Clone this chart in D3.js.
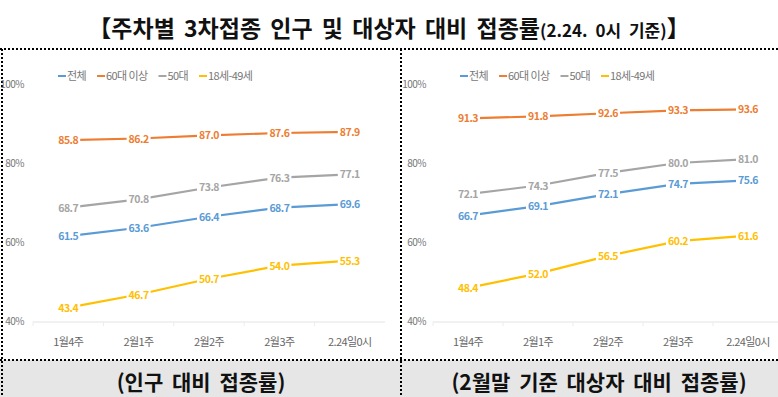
<!DOCTYPE html>
<html>
<head>
<meta charset="utf-8">
<script src="https://cdn.jsdelivr.net/npm/d3@7"></script>
<style>
body { margin:0; background:#fff; }
svg { display:block; font-family:"Noto Sans CJK KR","Noto Sans",sans-serif; }
</style>
</head>
<body>
<svg id="svg0" width="778" height="397"></svg>
<script>
var svg0 = d3.select('#svg0');
var W = +svg0.attr('width'), H = +svg0.attr('height');

// data
var categories = ['1월4주','2월1주','2월2주','2월3주','2.24일0시'];
var series_names = ['전체','60대 이상','50대','18세-49세'];
var series_colors = ['#5b9bd5','#ed7d31','#a5a5a5','#ffc000'];
var y_ticks = [40,60,80,100];

// 인구 대비
var pop_total = [61.5,63.6,66.4,68.7,69.6];
var pop_60 = [85.8,86.2,87.0,87.6,87.9];
var pop_50 = [68.7,70.8,73.8,76.3,77.1];
var pop_18 = [43.4,46.7,50.7,54.0,55.3];

// 2월말 기준 대상자 대비
var tgt_total = [66.7,69.1,72.1,74.7,75.6];
var tgt_60 = [91.3,91.8,92.6,93.3,93.6];
var tgt_50 = [72.1,74.3,77.5,80.0,81.0];
var tgt_18 = [48.4,52.0,56.5,60.2,61.6];

var panel_titles = ['(인구 대비 접종률)','(2월말 기준 대상자 대비 접종률)'];

// title
var title = svg0.append('text').attr('x', W/2).attr('y', 37).attr('text-anchor','middle')
	.attr('font-weight','bold').attr('font-size', 23).attr('fill','#111').attr('letter-spacing', 0)
	.attr('word-spacing', 4);
title.append('tspan').text('【주차별 3차접종 인구 및 대상자 대비 접종률');
title.append('tspan').attr('font-size', 17).text('(2.24. 0시 기준)');
title.append('tspan').text('】');

// bottom grey panel + dotted frame
var top_line = 49, bottom_line = 360, mid_x = 401;
svg0.append('rect').attr('x', 0).attr('y', bottom_line).attr('width', W).attr('height', H-bottom_line).attr('fill','#e6e6e6');
var dot = {stroke:'#000', 'stroke-width':2, 'stroke-dasharray':'2,2'};
function dline(x1,y1,x2,y2) {
	var l = svg0.append('line').attr('x1',x1).attr('y1',y1).attr('x2',x2).attr('y2',y2);
	for (var k in dot) l.attr(k, dot[k]);
}
dline(0, top_line, W, top_line);
dline(0, bottom_line, W, bottom_line);
dline(2, top_line, 2, H);
dline(mid_x, top_line, mid_x, H);

panel_titles.forEach(function(t, i) {
	svg0.append('text').attr('x', i == 0 ? 201 : 599).attr('y', 390).attr('text-anchor','middle')
		.attr('font-weight','bold').attr('font-size', 21).attr('fill','#111').attr('word-spacing', 4).text(t);
});

var y = d3.scaleLinear().domain([40,100]).range([321,84]);

function drawPanel(x0, x1, yLabelX, legendX, data) {
	var g = svg0.append('g');
	var x = d3.scaleBand().domain(categories).range([x0, x1]);

	// baseline
	g.append('line').attr('x1', x0).attr('x2', x1).attr('y1', y(40)+1).attr('y2', y(40)+1)
		.attr('stroke','#e3e3e3').attr('stroke-width',1.2);
	g.selectAll('.sep').data(categories).enter().append('line')
		.attr('x1', d => x(d)).attr('x2', d => x(d)).attr('y1', y(40)+1).attr('y2', y(40)+5)
		.attr('stroke','#ececec');

	// y labels
	g.selectAll('.yl').data(y_ticks).enter().append('text')
		.attr('x', yLabelX).attr('y', d => y(d)+3.5).attr('text-anchor','end')
		.attr('font-size', 10).attr('fill','#777').attr('letter-spacing', -0.5).text(d => d + '%');

	// x labels
	g.selectAll('.xl').data(categories).enter().append('text')
		.attr('x', d => x(d) + x.bandwidth()/2).attr('y', 346).attr('text-anchor','middle')
		.attr('font-size', 11).attr('fill','#666').attr('letter-spacing', -0.6).text(d => d);

	var line = d3.line().x((d,i) => x(categories[i]) + x.bandwidth()/2).y(d => y(d));

	data.forEach(function(vals, s) {
		g.append('path').attr('d', line(vals)).attr('fill','none')
			.attr('stroke', series_colors[s]).attr('stroke-width', 2.2);
	});
	data.forEach(function(vals, s) {
		var lg = g.selectAll('.lab' + s).data(vals).enter().append('g')
			.attr('transform', (d,i) => 'translate(' + (x(categories[i]) + x.bandwidth()/2) + ',' + y(d) + ')');
		lg.append('rect').attr('x', -12).attr('y', -6).attr('width', 24).attr('height', 12).attr('fill','#fff');
		lg.append('text').attr('y', 4).attr('text-anchor','middle').attr('font-size', 10.5)
			.attr('font-weight','bold').attr('letter-spacing', -0.5).attr('fill', series_colors[s])
			.text(d => d.toFixed(1));
	});

	// legend
	var lx = legendX;
	series_names.forEach(function(n, s) {
		g.append('line').attr('x1', lx).attr('x2', lx+8).attr('y1', 76).attr('y2', 76)
			.attr('stroke', series_colors[s]).attr('stroke-width', 2);
		var t = g.append('text').attr('x', lx+9).attr('y', 80).attr('font-size', 11)
			.attr('fill','#777').attr('letter-spacing', -0.6).text(n);
		lx += 9 + t.node().getComputedTextLength() + 11;
	});
}

drawPanel(33, 385, 24, 58, [pop_total, pop_60, pop_50, pop_18]);
drawPanel(433, 783, 426, 460, [tgt_total, tgt_60, tgt_50, tgt_18]);
</script>
</body>
</html>
